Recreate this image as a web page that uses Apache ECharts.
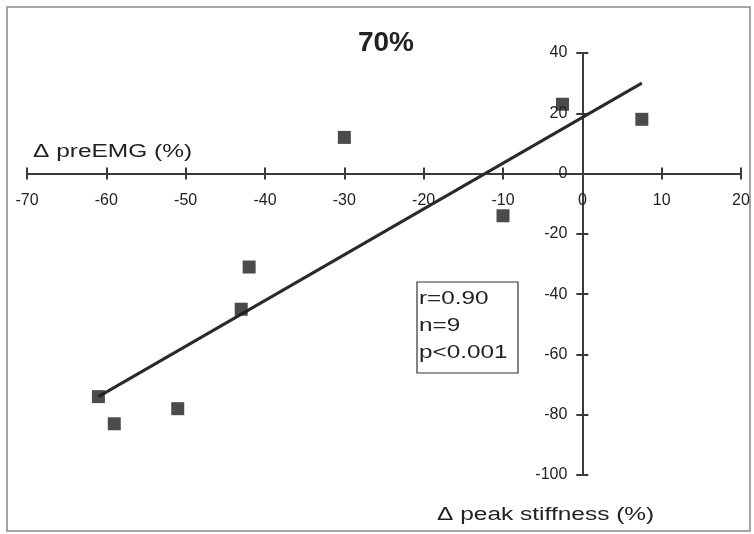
<!DOCTYPE html>
<html>
<head>
<meta charset="utf-8">
<script src="https://cdn.jsdelivr.net/npm/echarts@6/dist/echarts.min.js"></script>
<style>html,body{margin:0;padding:0;background:#fff}#c{width:754px;height:534px}</style>
</head>
<body>
<div id="c"></div>
<script>
var stiffness = [-61, -59, -51, -43, -42, -30, -10, -2.5, 7.5];
var preEMG = [-74, -83, -78, -45, -31, 12, -14, 23, 18];
var fitX = [-61, 7.5];
var fitY = [-74, 30];
var xTicks = [-70, 20, 10];
var yTicks = [-100, 40, 20];
var statsLines = ['r=0.90', 'n=9', 'p<0.001'];
var titleText = '70%';
var xName = 'Δ peak stiffness (%)';
var yName = 'Δ preEMG (%)';

var pts = stiffness.map(function (x, i) { return [x, preEMG[i]]; });
var fit = fitX.map(function (x, i) { return [x, fitY[i]]; });

var FONT = '"Liberation Sans", Arial, sans-serif';
var AX = '#3a3a3a';
var W = 754, H = 534;
var G = { left: 27, right: 13, top: 53, bottom: 59 };
var gw = W - G.left - G.right, gh = H - G.top - G.bottom;
// distance of the zero lines from grid edges (for label-only axes)
var zeroFromBottom = gh * (0 - yTicks[0]) / (yTicks[1] - yTicks[0]);
var zeroFromLeft = gw * (0 - xTicks[0]) / (xTicks[1] - xTicks[0]);

var chart = echarts.init(document.getElementById('c'));

function xAxisDef(inside) {
  return {
    type: 'value', min: xTicks[0], max: xTicks[1], interval: xTicks[2],
    position: 'bottom',
    axisLine: { show: true, onZero: true, onZeroAxisIndex: 0, lineStyle: { color: AX, width: 2 } },
    axisTick: { show: true, inside: inside, length: 6, lineStyle: { color: AX, width: 2 } },
    axisLabel: { show: false },
    splitLine: { show: false }
  };
}
function yAxisDef(inside) {
  return {
    type: 'value', min: yTicks[0], max: yTicks[1], interval: yTicks[2],
    position: 'left',
    axisLine: { show: true, onZero: true, onZeroAxisIndex: 0, lineStyle: { color: AX, width: 2 } },
    axisTick: { show: true, inside: inside, length: 6, lineStyle: { color: AX, width: 2 } },
    axisLabel: { show: false },
    splitLine: { show: false }
  };
}

chart.setOption({
  animation: false,
  backgroundColor: '#fff',
  grid: { left: G.left, right: G.right, top: G.top, bottom: G.bottom, containLabel: false, outerBoundsMode: 'none' },
  xAxis: [xAxisDef(false), xAxisDef(true), {
    type: 'value', min: xTicks[0], max: xTicks[1], interval: xTicks[2],
    position: 'bottom', offset: -zeroFromBottom,
    axisLine: { show: false, onZero: false }, axisTick: { show: false },
    axisLabel: { show: true, margin: 19, color: '#222', fontFamily: FONT, fontSize: 16 },
    splitLine: { show: false }
  }],
  yAxis: [yAxisDef(false), yAxisDef(true), {
    type: 'value', min: yTicks[0], max: yTicks[1], interval: yTicks[2],
    position: 'left', offset: -zeroFromLeft,
    axisLine: { show: false, onZero: false }, axisTick: { show: false },
    axisLabel: { show: true, margin: 15, color: '#222', fontFamily: FONT, fontSize: 16 },
    splitLine: { show: false }
  }],
  series: [
    {
      type: 'line', data: fit, showSymbol: false, symbol: 'none',
      lineStyle: { color: '#2a2a2a', width: 3 }, z: 3
    },
    {
      type: 'scatter', data: pts, symbol: 'rect', symbolSize: 13,
      itemStyle: { color: '#1e1e1e' }, z: 4
    }
  ],
  graphic: [
    { type: 'rect', shape: { x: 7, y: 7, width: 743, height: 524 },
      style: { fill: 'none', stroke: '#888', lineWidth: 1.5 }, z: -1, silent: true },
    { type: 'text', x: 386, y: 43, style: { text: titleText, fontFamily: FONT, fontWeight: 'bold',
      fontSize: 28, fill: '#222', textAlign: 'center', textVerticalAlign: 'middle' } },
    { type: 'text', x: 33, y: 152, scaleX: 1.36, style: { text: yName, fontFamily: FONT, fontSize: 18,
      fill: '#222', textAlign: 'left', textVerticalAlign: 'middle' } },
    { type: 'text', x: 437, y: 515, scaleX: 1.36, style: { text: xName, fontFamily: FONT, fontSize: 18,
      fill: '#222', textAlign: 'left', textVerticalAlign: 'middle' } },
    { type: 'rect', shape: { x: 417, y: 282, width: 101, height: 91 },
      style: { fill: '#fff', stroke: '#333', lineWidth: 1.2 }, z: 10 },
    { type: 'text', x: 419, y: 299, z: 11, scaleX: 1.35, style: { text: statsLines[0], fontFamily: FONT, fontSize: 18,
      fill: '#222', textAlign: 'left', textVerticalAlign: 'middle' } },
    { type: 'text', x: 419, y: 326, z: 11, scaleX: 1.35, style: { text: statsLines[1], fontFamily: FONT, fontSize: 18,
      fill: '#222', textAlign: 'left', textVerticalAlign: 'middle' } },
    { type: 'text', x: 419, y: 353, z: 11, scaleX: 1.35, style: { text: statsLines[2], fontFamily: FONT, fontSize: 18,
      fill: '#222', textAlign: 'left', textVerticalAlign: 'middle' } }
  ]
});
</script>
</body>
</html>
